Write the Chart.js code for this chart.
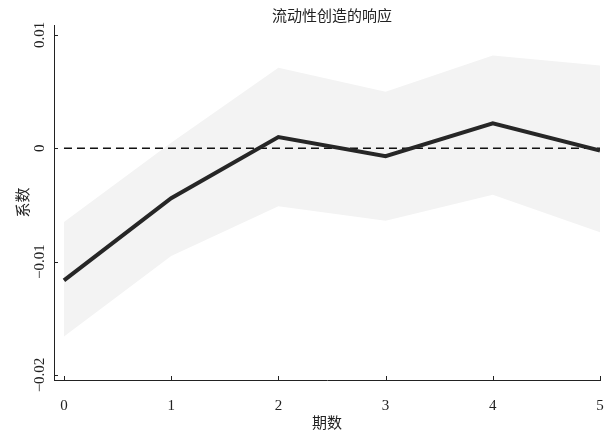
<!DOCTYPE html>
<html>
<head>
<meta charset="utf-8">
<script src="https://cdn.jsdelivr.net/npm/chart.js@4"></script>
<style>
html,body{margin:0;padding:0;background:#fff;}
#wrap{width:604px;height:430px;}
</style>
</head>
<body>
<div id="wrap"><canvas id="c" width="604" height="430"></canvas></div>
<script>
const chartTitle = '流动性创造的响应';
const xTitle = '期数';
const yTitle = '系数';
const periods = [0, 1, 2, 3, 4, 5];
const response = [-0.01165, -0.0044, 0.0010, -0.0007, 0.0022, -0.0002];
const upperBand = [-0.0065, 0.0005, 0.0071, 0.0050, 0.0082, 0.0073];
const lowerBand = [-0.0166, -0.0095, -0.0051, -0.0064, -0.0041, -0.0074];
const zeroLine = [0, 0];
const zeroLineX = [0, 5];
const xTicks = [0, 1, 2, 3, 4, 5];
const xTickLabels = ['0', '1', '2', '3', '4', '5'];
const yTicks = [-0.02, -0.01, 0, 0.01];
const yTickLabels = ['\u22120.02', '\u22120.01', '0', '0.01'];

const pts = (xs, ys) => xs.map((x, i) => ({x: x, y: ys[i]}));
const serif = '"Liberation Serif", "DejaVu Serif", serif';
const cjk = '"Noto Sans CJK SC", sans-serif';

const inwardTicks = {
  id: 'inwardTicks',
  afterDraw(chart) {
    const ctx = chart.ctx;
    const xs = chart.scales.x, ys = chart.scales.y;
    const a = chart.chartArea;
    ctx.save();
    ctx.strokeStyle = '#222';
    ctx.lineWidth = 1;
    ctx.beginPath();
    xTicks.forEach(v => {
      const px = Math.round(xs.getPixelForValue(v)) + 0.5;
      ctx.moveTo(px, a.bottom);
      ctx.lineTo(px, a.bottom - 4);
    });
    yTicks.forEach(v => {
      const py = Math.round(ys.getPixelForValue(v)) + 0.5;
      ctx.moveTo(a.left, py);
      ctx.lineTo(a.left + 4, py);
    });
    ctx.stroke();
    ctx.fillStyle = '#222';
    ctx.font = '15px ' + cjk;
    ctx.textAlign = 'center';
    ctx.textBaseline = 'middle';
    ctx.fillText(chartTitle, (a.left + a.right) / 2 + 5, 15);
    ctx.restore();
  }
};

new Chart(document.getElementById('c'), {
  type: 'line',
  data: {
    datasets: [
      {
        label: 'upper',
        data: pts(periods, upperBand),
        borderWidth: 0,
        pointRadius: 0,
        backgroundColor: '#f3f3f3',
        fill: '+1',
        order: 3
      },
      {
        label: 'lower',
        data: pts(periods, lowerBand),
        borderWidth: 0,
        pointRadius: 0,
        fill: false,
        order: 2
      },
      {
        label: 'zero',
        data: pts(zeroLineX, zeroLine),
        borderColor: '#111',
        borderWidth: 1.4,
        borderDash: [8, 5],
        pointRadius: 0,
        fill: false,
        order: 1
      },
      {
        label: 'response',
        data: pts(periods, response),
        borderColor: '#262626',
        borderWidth: 4,
        borderJoinStyle: 'miter',
        pointRadius: 0,
        fill: false,
        order: 0
      }
    ]
  },
  options: {
    responsive: false,
    animation: false,
    devicePixelRatio: 1,
    layout: {autoPadding: false, padding: {top: 25, right: 4, left: 0, bottom: 0}},
    plugins: {
      legend: {display: false},
      title: {display: false},
      tooltip: {enabled: false}
    },
    scales: {
      x: {
        type: 'linear',
        min: -0.093,
        max: 5,
        afterBuildTicks: s => { s.ticks = xTicks.map(v => ({value: v})); },
        afterFit: s => { s.height = 50; s.paddingLeft = 0; s.paddingRight = 0; },
        grid: {display: false, drawTicks: false},
        border: {display: true, color: '#222', width: 1},
        ticks: {
          padding: 17,
          color: '#222',
          font: {family: serif, size: 15},
          callback: v => xTickLabels[xTicks.indexOf(v)]
        },
        title: {
          display: true,
          text: xTitle,
          color: '#222',
          font: {family: cjk, size: 15},
          padding: {top: 0, bottom: -1}
        }
      },
      y: {
        type: 'linear',
        min: -0.02044,
        max: 0.01088,
        afterBuildTicks: s => { s.ticks = yTicks.map(v => ({value: v})); },
        afterFit: s => { s.width = 54; s.paddingTop = 0; s.paddingBottom = 0; },
        grid: {display: false, drawTicks: false},
        border: {display: true, color: '#222', width: 1},
        ticks: {
          minRotation: 90,
          maxRotation: 90,
          crossAlign: 'center',
          padding: -3,
          color: '#222',
          font: {family: serif, size: 15},
          callback: v => yTickLabels[yTicks.indexOf(v)]
        },
        title: {
          display: true,
          text: yTitle,
          color: '#222',
          font: {family: cjk, size: 15},
          padding: {top: 13, bottom: 0}
        }
      }
    }
  },
  plugins: [inwardTicks]
});
</script>
</body>
</html>
